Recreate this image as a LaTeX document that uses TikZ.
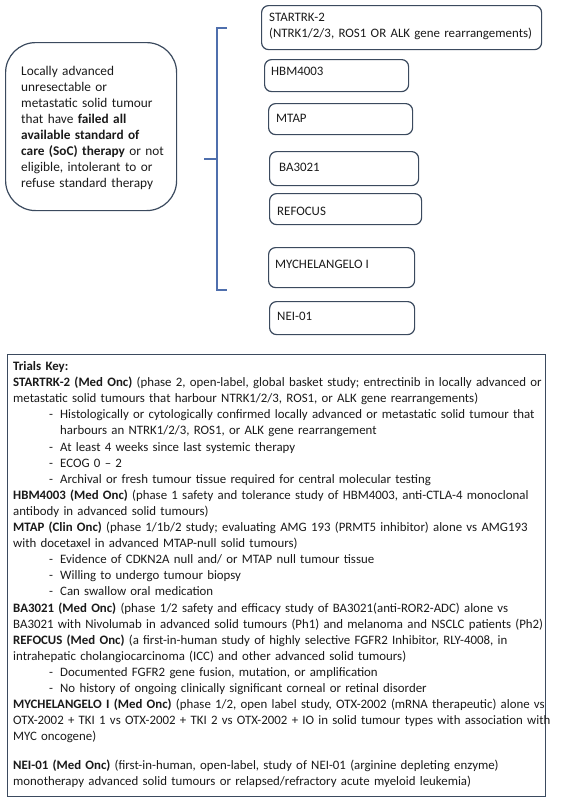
\documentclass[tikz,border=0pt]{standalone}
\usepackage{fontspec}
\setmainfont{Carlito}
\definecolor{boxline}{HTML}{3B4A5E}
\definecolor{bracecol}{HTML}{4F6FAD}
\definecolor{txt}{HTML}{1A1A1A}
\newcommand\keybul{\makebox[47pt][l]{\hspace*{36pt}-}}
\newcommand\keycont{\hspace*{47pt}}
\begin{document}
\begin{tikzpicture}[x=1pt,y=-1pt,
  trialbox/.style={draw=boxline, line width=1.2pt, rounded corners=7pt, anchor=north west, inner sep=0pt},
  bodytext/.style={font=\fontsize{13.3}{16}\selectfont, text=txt, inner sep=0pt, anchor=base west},
  trialtext/.style={font=\fontsize{12.9}{16}\selectfont, text=txt, inner sep=0pt, anchor=base west},
  keytext/.style={font=\fontsize{12.85}{16.1}\selectfont, text=txt, inner sep=0pt, anchor=base west, align=left, text width=600pt},
  brace/.style={draw=bracecol, line width=1.2pt}]
\useasboundingbox (0,0) rectangle (564,801);
% left condition box
\node[draw=boxline, line width=1.2pt, rounded corners=30pt, anchor=north west, minimum width=171pt, minimum height=168pt, inner sep=0pt] (cond) at (5,42) {};
\node[bodytext, align=left, text width=160pt] (condtxt) at (21,75.5) {Locally advanced\\
unresectable or\\
metastatic solid tumour\\
that have \textbf{failed all}\\
\textbf{available standard of}\\
\textbf{care (SoC) therapy} or not\\
eligible, intolerant to or\\
refuse standard therapy};
% bracket
\coordinate (bt) at (227,28);
\coordinate (bb) at (227,290);
\coordinate (bm) at (204,159);
\draw[brace] (bt) -- (217,28) -- (217,290) -- (bb);
\draw[brace] (bm) -- (217,159);
% trial boxes
\node[trialbox, minimum width=280pt, minimum height=44pt] (startrk) at (261,5) {};
\node[trialtext, align=left, text width=275pt] (startrktxt) at (269,21.5) {STARTRK-2\\(NTRK1/2/3, ROS1 OR ALK gene rearrangements)};
\node[trialbox, minimum width=144pt, minimum height=32pt] (hbm) at (264,59) {};
\node[trialtext] (hbmtxt) at (271,75.5) {HBM4003};
\node[trialbox, minimum width=144pt, minimum height=31pt] (mtap) at (268,103) {};
\node[trialtext] (mtaptxt) at (276,122.5) {MTAP};
\node[trialbox, minimum width=149pt, minimum height=34pt] (ba) at (269,151) {};
\node[trialtext] (batxt) at (279,171.5) {BA3021};
\node[trialbox, minimum width=152pt, minimum height=31pt] (refocus) at (269,193) {};
\node[trialtext] (refocustxt) at (277,215.5) {REFOCUS};
\node[trialbox, minimum width=146pt, minimum height=40pt] (mych) at (268,247) {};
\node[trialtext] (mychtxt) at (275,268.5) {MYCHELANGELO I};
\node[trialbox, minimum width=145pt, minimum height=33pt] (nei) at (269,301) {};
\node[trialtext] (neitxt) at (277,320.5) {NEI-01};
% key box
\node[draw=boxline, line width=1.4pt, anchor=north west, minimum width=538pt, minimum height=442pt, inner sep=0pt] (key) at (7,354) {};
\node[keytext] (keytxt) at (13,370.5) {\textbf{Trials Key:}\\
\textbf{STARTRK-2 (Med Onc)} (phase 2, open-label, global basket study; entrectinib in locally advanced or\\
metastatic solid tumours that harbour NTRK1/2/3, ROS1, or ALK gene rearrangements)\\
\keybul Histologically or cytologically confirmed locally advanced or metastatic solid tumour that\\
\keycont harbours an NTRK1/2/3, ROS1, or ALK gene rearrangement\\
\keybul At least 4 weeks since last systemic therapy\\
\keybul ECOG 0 – 2\\
\keybul Archival or fresh tumour tissue required for central molecular testing\\
\textbf{HBM4003 (Med Onc)} (phase 1 safety and tolerance study of HBM4003, anti-CTLA-4 monoclonal\\
antibody in advanced solid tumours)\\
\textbf{MTAP (Clin Onc)} (phase 1/1b/2 study; evaluating AMG 193 (PRMT5 inhibitor) alone vs AMG193\\
with docetaxel in advanced MTAP-null solid tumours)\\
\keybul Evidence of CDKN2A null and/ or MTAP null tumour tissue\\
\keybul Willing to undergo tumour biopsy\\
\keybul Can swallow oral medication\\
\textbf{BA3021 (Med Onc)} (phase 1/2 safety and efficacy study of BA3021(anti-ROR2-ADC) alone vs\\
BA3021 with Nivolumab in advanced solid tumours (Ph1) and melanoma and NSCLC patients (Ph2)\\
\textbf{REFOCUS (Med Onc)} (a first-in-human study of highly selective FGFR2 Inhibitor, RLY-4008, in\\
intrahepatic cholangiocarcinoma (ICC) and other advanced solid tumours)\\
\keybul Documented FGFR2 gene fusion, mutation, or amplification\\
\keybul No history of ongoing clinically significant corneal or retinal disorder\\
\textbf{MYCHELANGELO I (Med Onc)} (phase 1/2, open label study, OTX-2002 (mRNA therapeutic) alone vs\\
OTX-2002 + TKI 1 vs OTX-2002 + TKI 2 vs OTX-2002 + IO in solid tumour types with association with\\
MYC oncogene)\\[12.9pt]
\textbf{NEI-01 (Med Onc)} (first-in-human, open-label, study of NEI-01 (arginine depleting enzyme)\\
monotherapy advanced solid tumours or relapsed/refractory acute myeloid leukemia)};
\end{tikzpicture}
\end{document}
